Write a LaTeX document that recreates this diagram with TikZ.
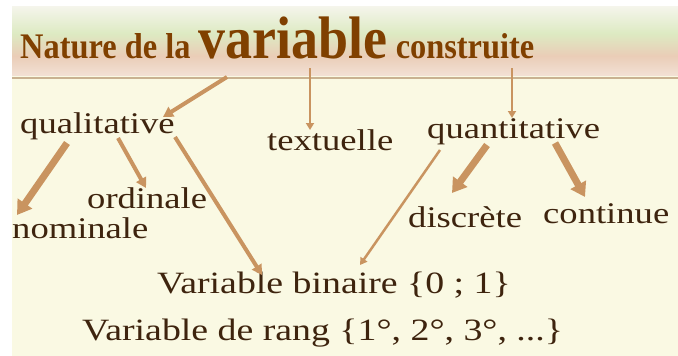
\documentclass[tikz,border=0pt]{standalone}
\usepackage{fontspec}
\usepackage{tikz}
\usetikzlibrary{arrows.meta,calc}

\newfontfamily\lblfont[FakeStretch=1.22]{Liberation Serif}
\newfontfamily\ttlfont[FakeStretch=0.9]{Liberation Serif}

\definecolor{titlebrown}{RGB}{128,64,0}
\definecolor{textbrown}{RGB}{62,36,14}
\definecolor{arrowtan}{RGB}{201,148,96}
\definecolor{cream}{RGB}{250,249,227}
\definecolor{rulecol}{RGB}{201,178,145}
\definecolor{bandtop}{RGB}{245,245,236}
\definecolor{bandgreen}{RGB}{221,234,194}
\definecolor{bandpink}{RGB}{234,205,183}
\definecolor{bandbot}{RGB}{242,224,212}
\pgfdeclareverticalshading{bandshade}{100bp}{color(0bp)=(bandbot); color(25bp)=(bandbot); color(39bp)=(bandpink); color(55bp)=(bandgreen); color(75bp)=(bandtop); color(100bp)=(bandtop)}

\tikzset{
  lbl/.style={anchor=base west, inner sep=0pt, text=textbrown, font=\lblfont\fontsize{30}{32}\selectfont},
  biglbl/.style={lbl, font=\lblfont\fontsize{31}{33}\selectfont},
  thickarr/.style={draw=arrowtan, line width=7pt, -{Triangle[length=14pt,width=17pt]}},
  midarr/.style={draw=arrowtan, line width=4pt, -{Triangle[length=10pt,width=11pt]}},
  thinarr/.style={draw=arrowtan, line width=2.5pt, -{Triangle[length=7pt,width=8pt]}}
}

\begin{document}
\begin{tikzpicture}[x=1pt,y=-1pt]

  \useasboundingbox (0,0) rectangle (678,356);
  \fill[white] (0,0) rectangle (678,356);
  \fill[cream] (12,75) rectangle (678,356);
  \shade[shading=bandshade] (12,6) rectangle (678,75);
  \draw[rulecol, line width=1.2pt] (12,78) -- (678,78);

  \node[anchor=base west, inner sep=0pt, text=titlebrown, font=\ttlfont\bfseries] (title) at (20,58)
    {\fontsize{36}{38}\selectfont Nature de la {\fontsize{60}{60}\selectfont variable} construite};

  \node[lbl] (quali)  at (20,133)  {qualitative};
  \node[lbl] (textu)  at (267,150) {textuelle};
  \node[lbl] (quanti) at (427,138) {quantitative};
  \node[lbl] (ordi)   at (87,208)  {ordinale};
  \node[lbl] (nomi)   at (12,238)  {nominale};
  \node[lbl] (disc)   at (408,227) {discrète};
  \node[lbl] (cont)   at (543,223) {continue};
  \node[biglbl] (bin)  at (157,293) {Variable binaire \{0 ; 1\}};
  \node[biglbl] (rang) at (82,340)  {Variable de rang \{1°, 2°, 3°, ...\}};

  \draw[midarr]   ([shift={(207,19)}]title.base west) -- ([shift={(143,-16)}]quali.base west);
  \draw[thinarr]  ([shift={(290,10)}]title.base west) -- ([shift={(43,-20)}]textu.base west);
  \draw[thinarr]  ([shift={(492,10)}]title.base west) -- ([shift={(85,-20)}]quanti.base west);
  \draw[thickarr] ([shift={(47,10)}]quali.base west) -- ([shift={(5,-23)}]nomi.base west);
  \draw[midarr]   ([shift={(98,5)}]quali.base west) -- ([shift={(59,-20)}]ordi.base west);
  \draw[midarr]   ([shift={(155,4)}]quali.base west) -- ([shift={(105,-18)}]bin.base west);
  \draw[thinarr]  ([shift={(13,12)}]quanti.base west) -- ([shift={(203,-28)}]bin.base west);
  \draw[thickarr] ([shift={(60,7)}]quanti.base west) -- ([shift={(44,-34)}]disc.base west);
  \draw[thickarr] ([shift={(128,5)}]quanti.base west) -- ([shift={(42,-26)}]cont.base west);

\end{tikzpicture}
\end{document}
